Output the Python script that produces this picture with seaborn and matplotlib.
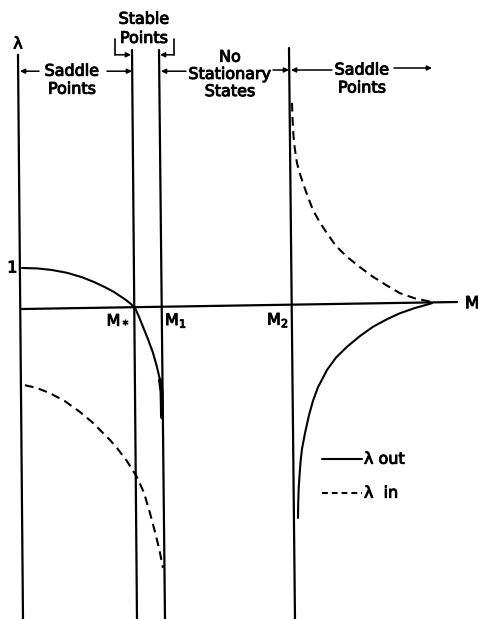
import matplotlib
matplotlib.use("Agg")
import matplotlib.pyplot as plt
import matplotlib.patheffects as pe
import seaborn as sns
import pandas as pd

# Critical masses along the M axis and the extent of the drawing
M_STAR = 1.13
M_1 = 1.40
M_2 = 2.70
M_END = 4.35

# lambda_out, left branch (saddle points -> stable points)
out_left_m = [0.00, 0.15, 0.30, 0.45, 0.60, 0.72, 0.83, 0.92, 0.98, 1.04, 1.09, 1.13,
              1.17, 1.21, 1.26, 1.31, 1.35, 1.38, 1.395, 1.40]
out_left_l = [1.00, 0.99, 0.95, 0.88, 0.77, 0.65, 0.52, 0.40, 0.30, 0.20, 0.10, 0.00,
              -0.22, -0.47, -0.78, -1.12, -1.48, -1.80, -2.10, -2.73]

# lambda_in, left branch
in_left_m = [0.03, 0.15, 0.28, 0.43, 0.58, 0.70, 0.78, 0.88, 0.95, 1.05, 1.15, 1.22,
             1.28, 1.33, 1.37, 1.41]
in_left_l = [-1.93, -2.00, -2.13, -2.33, -2.60, -2.85, -3.05, -3.30, -3.50, -3.83, -4.23,
             -4.62, -5.13, -5.60, -6.00, -6.50]

# lambda_in, right branch (beyond M2)
in_right_m = [2.70, 2.705, 2.712, 2.72, 2.73, 2.75, 2.78, 2.81, 2.86, 2.91, 2.98, 3.05,
              3.14, 3.25, 3.38, 3.51, 3.65, 3.78, 3.93, 4.10]
in_right_l = [5.13, 4.75, 4.40, 4.15, 3.95, 3.62, 3.35, 3.12, 2.77, 2.45, 2.13, 1.87,
              1.55, 1.28, 1.02, 0.78, 0.56, 0.37, 0.24, 0.15]

# lambda_out, right branch
out_right_m = [2.76, 2.762, 2.767, 2.775, 2.785, 2.80, 2.83, 2.87, 2.91, 2.96, 3.05, 3.14,
               3.25, 3.38, 3.51, 3.65, 3.78, 3.93, 4.10]
out_right_l = [-5.25, -4.90, -4.50, -4.20, -3.85, -3.52, -3.13, -2.68, -2.32, -1.98, -1.55,
               -1.24, -0.97, -0.70, -0.47, -0.28, -0.13, 0.00, 0.12]

sns.set_style("white")
plt.rcParams["font.family"] = ["DejaVu Sans"]

fig = plt.figure(figsize=(4.78, 6.19), dpi=100)
ax = fig.add_axes([0, 0, 1, 1])
ax.set_xlim(-0.22, 4.56)
ax.set_ylim(-7.775, 7.7)
ax.axis("off")

K = "black"
AX_LW = 1.6
CURVE_LW = 1.5
BOTTOM = -7.8

# Axes and the (slightly leaning) boundaries at the critical masses
ax.plot([0, M_END], [-0.025, 0.15], color=K, lw=AX_LW)
ax.plot([-0.04, 0.01], [6.33, BOTTOM], color=K, lw=AX_LW)
ax.plot([M_STAR - 0.03, M_STAR + 0.02], [6.45, BOTTOM], color=K, lw=AX_LW)
ax.plot([M_1 - 0.03, M_1 + 0.03], [6.45, BOTTOM], color=K, lw=AX_LW)
ax.plot([M_2 - 0.03, M_2 + 0.03], [6.50, BOTTOM], color=K, lw=AX_LW)


def draw_branch(m, lam, dashed, lw=CURVE_LW):
    df = pd.DataFrame({"M": m, "lam": lam})
    n_before = len(ax.lines)
    sns.lineplot(data=df, x="M", y="lam", sort=False, estimator=None,
                 color=K, lw=lw, ax=ax, legend=False)
    if dashed:
        for ln in ax.lines[n_before:]:
            ln.set_dashes([4.2, 2.6])
            ln.set_dash_capstyle("butt")


draw_branch(out_left_m, out_left_l, False)
draw_branch(out_left_m[-3:], out_left_l[-3:], False, lw=2.8)
draw_branch(in_left_m, in_left_l, True)
draw_branch(in_right_m, in_right_l, True)
draw_branch(out_right_m, out_right_l, False)
ax.set_xlabel("")
ax.set_ylabel("")

FS = 11.5
ink = [pe.withStroke(linewidth=0.7, foreground=K)]
txt = dict(color=K, fontsize=FS, ha="center", va="center", path_effects=ink)

# Axis labels
ax.text(-0.04, 6.6, "λ", **txt)
ax.text(-0.045, 1.0, "1", color=K, fontsize=FS, ha="right", va="center", path_effects=ink)
ax.text(1.08, -0.33, r"M$_*$", color=K, fontsize=FS, ha="right", va="center", path_effects=ink)
ax.text(1.43, -0.31, r"M$_1$", color=K, fontsize=FS, ha="left", va="center", path_effects=ink)
ax.text(2.67, -0.30, r"M$_2$", color=K, fontsize=FS, ha="right", va="center", path_effects=ink)
ax.text(4.43, 0.12, "M", color=K, fontsize=FS + 0.5, ha="left", va="center", path_effects=ink)

# Region captions
ax.text(0.50, 5.92, "Saddle", **txt)
ax.text(0.50, 5.47, "Points", **txt)
ax.text(1.22, 7.22, "Stable", **txt)
ax.text(1.22, 6.74, "Points", **txt)
ax.text(2.08, 6.27, "No", **txt)
ax.text(2.08, 5.84, "Stationary", **txt)
ax.text(2.08, 5.41, "States", **txt)
ax.text(3.40, 5.95, "Saddle", **txt)
ax.text(3.40, 5.50, "Points", **txt)

arrow = dict(arrowstyle="-|>", color=K, lw=1.1, mutation_scale=7,
             shrinkA=0, shrinkB=0)


def arr(x0, y0, x1, y1):
    ax.annotate("", xy=(x1, y1), xytext=(x0, y0), arrowprops=arrow)


arr(0.17, 5.92, -0.02, 5.92)
arr(0.85, 5.92, 1.10, 5.92)
arr(1.64, 5.92, 1.39, 5.92)
arr(2.51, 5.95, 2.67, 5.95)
arr(3.10, 5.95, 2.69, 5.95)
arr(3.72, 6.00, 4.10, 6.00)

# Brackets marking the narrow stable band
ax.plot([0.93, 0.93], [6.73, 6.33], color=K, lw=1.2)
arr(0.93, 6.33, 1.09, 6.33)
ax.plot([1.52, 1.52], [6.73, 6.33], color=K, lw=1.2)
arr(1.52, 6.33, 1.38, 6.33)

# Key
ax.plot([3.00, 3.40], [-3.78, -3.78], color=K, lw=CURVE_LW)
ax.text(3.42, -3.78, "λ out", color=K, fontsize=FS, ha="left", va="center", path_effects=ink)
kl, = ax.plot([3.00, 3.40], [-4.63, -4.63], color=K, lw=CURVE_LW)
kl.set_dashes([2.8, 1.9])
ax.text(3.42, -4.63, "λ  in", color=K, fontsize=FS, ha="left", va="center", path_effects=ink)

fig.savefig("out.png", dpi=100, facecolor="white")
